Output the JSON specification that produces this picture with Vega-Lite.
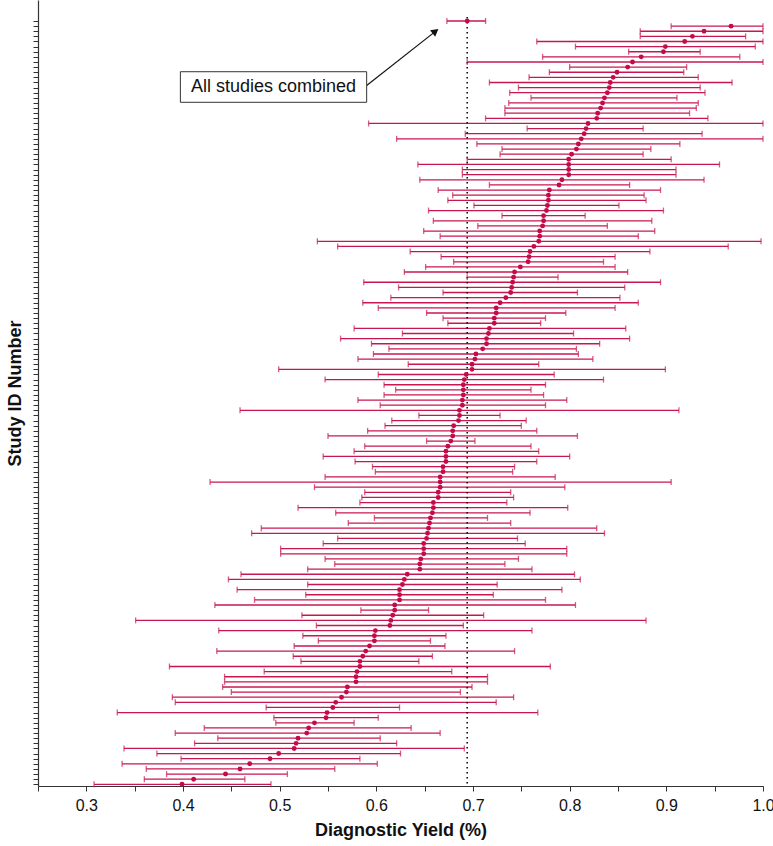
{
  "$schema": "https://vega.github.io/schema/vega-lite/v6.json",
  "width": 725,
  "height": 786,
  "autosize": "none",
  "padding": {"left": 38, "right": 10, "top": 0, "bottom": 60},
  "background": "white",
  "config": {
    "view": {"stroke": null},
    "font": "Liberation Sans",
    "axis": {"grid": false, "domainColor": "#333", "tickColor": "#333", "labelColor": "#111", "titleColor": "#111", "labelFont": "Liberation Sans", "titleFont": "Liberation Sans"}
  },
  "datasets": {
    "studies": [
    {"id":0,"est":0.694,"lo":0.673,"hi":0.713},
    {"id":1,"est":0.967,"lo":0.905,"hi":1.0},
    {"id":2,"est":0.939,"lo":0.873,"hi":1.0},
    {"id":3,"est":0.927,"lo":0.873,"hi":0.982},
    {"id":4,"est":0.919,"lo":0.766,"hi":1.0},
    {"id":5,"est":0.899,"lo":0.806,"hi":0.992},
    {"id":6,"est":0.897,"lo":0.861,"hi":0.935},
    {"id":7,"est":0.874,"lo":0.772,"hi":0.976},
    {"id":8,"est":0.865,"lo":0.694,"hi":1.0},
    {"id":9,"est":0.860,"lo":0.800,"hi":0.921},
    {"id":10,"est":0.849,"lo":0.779,"hi":0.918},
    {"id":11,"est":0.845,"lo":0.758,"hi":0.933},
    {"id":12,"est":0.842,"lo":0.717,"hi":0.968},
    {"id":13,"est":0.841,"lo":0.747,"hi":0.935},
    {"id":14,"est":0.839,"lo":0.738,"hi":0.940},
    {"id":15,"est":0.836,"lo":0.760,"hi":0.911},
    {"id":16,"est":0.834,"lo":0.737,"hi":0.933},
    {"id":17,"est":0.832,"lo":0.733,"hi":0.931},
    {"id":18,"est":0.829,"lo":0.733,"hi":0.924},
    {"id":19,"est":0.828,"lo":0.713,"hi":0.943},
    {"id":20,"est":0.819,"lo":0.592,"hi":1.0},
    {"id":21,"est":0.817,"lo":0.756,"hi":0.876},
    {"id":22,"est":0.815,"lo":0.692,"hi":0.937},
    {"id":23,"est":0.812,"lo":0.621,"hi":1.0},
    {"id":24,"est":0.809,"lo":0.704,"hi":0.914},
    {"id":25,"est":0.807,"lo":0.730,"hi":0.884},
    {"id":26,"est":0.802,"lo":0.728,"hi":0.876},
    {"id":27,"est":0.799,"lo":0.694,"hi":0.905},
    {"id":28,"est":0.799,"lo":0.643,"hi":0.955},
    {"id":29,"est":0.799,"lo":0.689,"hi":0.910},
    {"id":30,"est":0.799,"lo":0.689,"hi":0.910},
    {"id":31,"est":0.792,"lo":0.645,"hi":0.939},
    {"id":32,"est":0.789,"lo":0.717,"hi":0.862},
    {"id":33,"est":0.779,"lo":0.664,"hi":0.894},
    {"id":34,"est":0.778,"lo":0.679,"hi":0.877},
    {"id":35,"est":0.778,"lo":0.674,"hi":0.879},
    {"id":36,"est":0.777,"lo":0.701,"hi":0.851},
    {"id":37,"est":0.776,"lo":0.654,"hi":0.897},
    {"id":38,"est":0.773,"lo":0.730,"hi":0.816},
    {"id":39,"est":0.773,"lo":0.659,"hi":0.885},
    {"id":40,"est":0.772,"lo":0.705,"hi":0.839},
    {"id":41,"est":0.769,"lo":0.649,"hi":0.888},
    {"id":42,"est":0.769,"lo":0.666,"hi":0.871},
    {"id":43,"est":0.768,"lo":0.539,"hi":0.998},
    {"id":44,"est":0.763,"lo":0.560,"hi":0.964},
    {"id":45,"est":0.759,"lo":0.635,"hi":0.883},
    {"id":46,"est":0.758,"lo":0.667,"hi":0.847},
    {"id":47,"est":0.757,"lo":0.680,"hi":0.835},
    {"id":48,"est":0.749,"lo":0.651,"hi":0.847},
    {"id":49,"est":0.743,"lo":0.629,"hi":0.860},
    {"id":50,"est":0.742,"lo":0.694,"hi":0.788},
    {"id":51,"est":0.741,"lo":0.587,"hi":0.894},
    {"id":52,"est":0.740,"lo":0.623,"hi":0.857},
    {"id":53,"est":0.739,"lo":0.669,"hi":0.808},
    {"id":54,"est":0.734,"lo":0.615,"hi":0.852},
    {"id":55,"est":0.728,"lo":0.586,"hi":0.871},
    {"id":56,"est":0.724,"lo":0.602,"hi":0.847},
    {"id":57,"est":0.724,"lo":0.652,"hi":0.796},
    {"id":58,"est":0.722,"lo":0.669,"hi":0.775},
    {"id":59,"est":0.722,"lo":0.674,"hi":0.770},
    {"id":60,"est":0.717,"lo":0.577,"hi":0.858},
    {"id":61,"est":0.716,"lo":0.627,"hi":0.804},
    {"id":62,"est":0.714,"lo":0.563,"hi":0.862},
    {"id":63,"est":0.714,"lo":0.595,"hi":0.831},
    {"id":64,"est":0.710,"lo":0.613,"hi":0.807},
    {"id":65,"est":0.703,"lo":0.597,"hi":0.809},
    {"id":66,"est":0.702,"lo":0.581,"hi":0.824},
    {"id":67,"est":0.699,"lo":0.633,"hi":0.768},
    {"id":68,"est":0.699,"lo":0.499,"hi":0.899},
    {"id":69,"est":0.693,"lo":0.602,"hi":0.784},
    {"id":70,"est":0.691,"lo":0.547,"hi":0.835},
    {"id":71,"est":0.690,"lo":0.608,"hi":0.775},
    {"id":72,"est":0.690,"lo":0.620,"hi":0.760},
    {"id":73,"est":0.690,"lo":0.608,"hi":0.773},
    {"id":74,"est":0.689,"lo":0.581,"hi":0.797},
    {"id":75,"est":0.689,"lo":0.604,"hi":0.775},
    {"id":76,"est":0.686,"lo":0.459,"hi":0.913},
    {"id":77,"est":0.686,"lo":0.644,"hi":0.728},
    {"id":78,"est":0.685,"lo":0.616,"hi":0.755},
    {"id":79,"est":0.680,"lo":0.609,"hi":0.750},
    {"id":80,"est":0.679,"lo":0.591,"hi":0.766},
    {"id":81,"est":0.679,"lo":0.550,"hi":0.808},
    {"id":82,"est":0.677,"lo":0.652,"hi":0.702},
    {"id":83,"est":0.674,"lo":0.588,"hi":0.760},
    {"id":84,"est":0.672,"lo":0.577,"hi":0.768},
    {"id":85,"est":0.672,"lo":0.545,"hi":0.800},
    {"id":86,"est":0.672,"lo":0.578,"hi":0.766},
    {"id":87,"est":0.669,"lo":0.596,"hi":0.743},
    {"id":88,"est":0.669,"lo":0.599,"hi":0.741},
    {"id":89,"est":0.666,"lo":0.547,"hi":0.785},
    {"id":90,"est":0.666,"lo":0.428,"hi":0.905},
    {"id":91,"est":0.666,"lo":0.536,"hi":0.795},
    {"id":92,"est":0.664,"lo":0.588,"hi":0.739},
    {"id":93,"est":0.664,"lo":0.585,"hi":0.742},
    {"id":94,"est":0.659,"lo":0.583,"hi":0.735},
    {"id":95,"est":0.659,"lo":0.519,"hi":0.798},
    {"id":96,"est":0.658,"lo":0.558,"hi":0.759},
    {"id":97,"est":0.656,"lo":0.598,"hi":0.715},
    {"id":98,"est":0.655,"lo":0.571,"hi":0.739},
    {"id":99,"est":0.654,"lo":0.481,"hi":0.828},
    {"id":100,"est":0.653,"lo":0.471,"hi":0.836},
    {"id":101,"est":0.652,"lo":0.560,"hi":0.746},
    {"id":102,"est":0.649,"lo":0.545,"hi":0.754},
    {"id":103,"est":0.649,"lo":0.501,"hi":0.797},
    {"id":104,"est":0.649,"lo":0.501,"hi":0.797},
    {"id":105,"est":0.646,"lo":0.547,"hi":0.747},
    {"id":106,"est":0.645,"lo":0.557,"hi":0.733},
    {"id":107,"est":0.645,"lo":0.529,"hi":0.761},
    {"id":108,"est":0.632,"lo":0.460,"hi":0.805},
    {"id":109,"est":0.629,"lo":0.447,"hi":0.811},
    {"id":110,"est":0.627,"lo":0.529,"hi":0.725},
    {"id":111,"est":0.624,"lo":0.456,"hi":0.792},
    {"id":112,"est":0.624,"lo":0.527,"hi":0.721},
    {"id":113,"est":0.624,"lo":0.474,"hi":0.775},
    {"id":114,"est":0.619,"lo":0.433,"hi":0.806},
    {"id":115,"est":0.619,"lo":0.584,"hi":0.654},
    {"id":116,"est":0.617,"lo":0.523,"hi":0.711},
    {"id":117,"est":0.615,"lo":0.351,"hi":0.879},
    {"id":118,"est":0.614,"lo":0.538,"hi":0.690},
    {"id":119,"est":0.599,"lo":0.437,"hi":0.761},
    {"id":120,"est":0.598,"lo":0.524,"hi":0.672},
    {"id":121,"est":0.598,"lo":0.540,"hi":0.656},
    {"id":122,"est":0.593,"lo":0.515,"hi":0.671},
    {"id":123,"est":0.589,"lo":0.435,"hi":0.743},
    {"id":124,"est":0.586,"lo":0.514,"hi":0.658},
    {"id":125,"est":0.583,"lo":0.522,"hi":0.644},
    {"id":126,"est":0.583,"lo":0.386,"hi":0.780},
    {"id":127,"est":0.580,"lo":0.484,"hi":0.678},
    {"id":128,"est":0.579,"lo":0.443,"hi":0.715},
    {"id":129,"est":0.579,"lo":0.443,"hi":0.715},
    {"id":130,"est":0.570,"lo":0.441,"hi":0.699},
    {"id":131,"est":0.569,"lo":0.450,"hi":0.687},
    {"id":132,"est":0.564,"lo":0.389,"hi":0.742},
    {"id":133,"est":0.558,"lo":0.392,"hi":0.724},
    {"id":134,"est":0.555,"lo":0.486,"hi":0.624},
    {"id":135,"est":0.549,"lo":0.332,"hi":0.767},
    {"id":136,"est":0.548,"lo":0.494,"hi":0.602},
    {"id":137,"est":0.536,"lo":0.496,"hi":0.577},
    {"id":138,"est":0.530,"lo":0.422,"hi":0.636},
    {"id":139,"est":0.528,"lo":0.392,"hi":0.666},
    {"id":140,"est":0.519,"lo":0.436,"hi":0.604},
    {"id":141,"est":0.517,"lo":0.412,"hi":0.621},
    {"id":142,"est":0.515,"lo":0.339,"hi":0.691},
    {"id":143,"est":0.499,"lo":0.373,"hi":0.625},
    {"id":144,"est":0.490,"lo":0.398,"hi":0.583},
    {"id":145,"est":0.469,"lo":0.337,"hi":0.601},
    {"id":146,"est":0.459,"lo":0.362,"hi":0.557},
    {"id":147,"est":0.444,"lo":0.383,"hi":0.508},
    {"id":148,"est":0.411,"lo":0.360,"hi":0.464},
    {"id":149,"est":0.399,"lo":0.308,"hi":0.491}
    ],
    "note": [{"label": "All studies combined", "pooled": 0.694}]
  },
  "data": {"name": "studies"},
  "encoding": {
    "y": {
      "field": "id", "type": "quantitative",
      "scale": {"domain": [-4.1, 149.33], "reverse": true, "nice": false, "zero": false},
      "axis": {
        "title": "Study ID Number", "titleFontSize": 18, "titleFontWeight": "bold", "titlePadding": 8,
        "labels": false, "tickSize": 5, "tickWidth": 1, "domainWidth": 1.2,
        "values": [0,1,2,3,4,5,6,7,8,9,10,11,12,13,14,15,16,17,18,19,20,21,22,23,24,25,26,27,28,29,30,31,32,33,34,35,36,37,38,39,40,41,42,43,44,45,46,47,48,49,50,51,52,53,54,55,56,57,58,59,60,61,62,63,64,65,66,67,68,69,70,71,72,73,74,75,76,77,78,79,80,81,82,83,84,85,86,87,88,89,90,91,92,93,94,95,96,97,98,99,100,101,102,103,104,105,106,107,108,109,110,111,112,113,114,115,116,117,118,119,120,121,122,123,124,125,126,127,128,129,130,131,132,133,134,135,136,137,138,139,140,141,142,143,144,145,146,147,148,149]
      }
    }
  },
  "layer": [
    {
      "mark": {"type": "rule", "color": "#c8174f", "strokeWidth": 1.3},
      "encoding": {
        "x": {"field": "lo", "type": "quantitative", "scale": {"domain": [0.25, 1.0], "nice": false, "zero": false},
          "axis": {"title": "Diagnostic Yield (%)", "titleFontSize": 18, "titleFontWeight": "bold", "titlePadding": 8,
            "values": [0.25,0.3,0.35,0.4,0.45,0.5,0.55,0.6,0.65,0.7,0.75,0.8,0.85,0.9,0.95,1.0],
            "labelExpr": "(round(datum.value*100) % 10 == 0) ? format(datum.value, '.1f') : ''",
            "labelFontSize": 16, "tickSize": 5, "labelPadding": 6, "domainWidth": 1.2, "labelFlush": false}},
        "x2": {"field": "hi"}
      }
    },
    {
      "transform": [{"filter": "datum.id == 0"}],
      "mark": {"type": "rule", "color": "#111", "strokeDash": [1.5, 3.5], "strokeWidth": 1.6},
      "encoding": {
        "x": {"field": "est", "type": "quantitative"},
        "y": {"datum": -0.8},
        "y2": {"datum": 149.33}
      }
    },
    {
      "mark": {"type": "tick", "color": "#c8174f", "orient": "vertical", "size": 6, "thickness": 1.3},
      "encoding": {"x": {"field": "lo", "type": "quantitative"}}
    },
    {
      "mark": {"type": "tick", "color": "#c8174f", "orient": "vertical", "size": 6, "thickness": 1.3},
      "encoding": {"x": {"field": "hi", "type": "quantitative"}}
    },
    {
      "mark": {"type": "circle", "color": "#c40a4b", "size": 24, "opacity": 1},
      "encoding": {"x": {"field": "est", "type": "quantitative"}}
    },
    {
      "transform": [{"filter": "datum.id == 0"}],
      "mark": {"type": "rule", "color": "#111", "strokeWidth": 1.2},
      "encoding": {
        "x": {"datum": 0.590}, "y": {"datum": 12.6},
        "x2": {"datum": 0.6618}, "y2": {"datum": 1.93}
      }
    },
    {
      "transform": [{"filter": "datum.id == 0"}],
      "mark": {"type": "point", "shape": "triangle-up", "filled": true, "color": "#111", "size": 70, "angle": 52, "opacity": 1},
      "encoding": {"x": {"datum": 0.6612}, "y": {"datum": 2.0}}
    },
    {
      "transform": [{"filter": "datum.id == 0"}],
      "mark": {"type": "rect", "fill": "white", "stroke": "#333", "strokeWidth": 1},
      "encoding": {
        "x": {"datum": 0.3973}, "x2": {"datum": 0.590},
        "y": {"datum": 9.9}, "y2": {"datum": 15.87}
      }
    },
    {
      "transform": [{"filter": "datum.id == 0"}],
      "mark": {"type": "text", "fontSize": 18, "font": "Liberation Sans", "color": "#111", "align": "center", "baseline": "middle", "text": "All studies combined"},
      "encoding": {"x": {"datum": 0.4937}, "y": {"datum": 12.9}}
    }
  ]
}
